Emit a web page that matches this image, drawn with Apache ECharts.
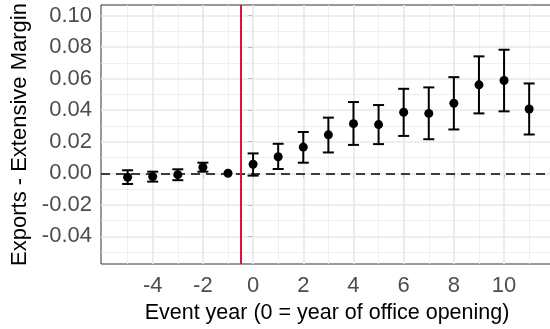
<!DOCTYPE html>
<html>
<head>
<meta charset="utf-8">
<script src="https://cdn.jsdelivr.net/npm/echarts@6/dist/echarts.min.js"></script>
<style>
html,body{margin:0;padding:0;background:#fff;}
#chart{width:550px;height:329px;}
</style>
</head>
<body>
<div id="chart"></div>
<script>
// Data
const years = [-5,-4,-3,-2,-1,0,1,2,3,4,5,6,7,8,9,10,11];
const estimate = [-0.0025,-0.0021,-0.0009,0.0038,0,0.0057,0.0105,0.0166,0.0244,0.0315,0.0309,0.0387,0.0380,0.0444,0.0561,0.0589,0.0408];
const ciLow = [-0.0068,-0.0053,-0.0044,0.0010,null,-0.0015,0.0027,0.0067,0.0132,0.0180,0.0185,0.0237,0.0216,0.0278,0.0380,0.0393,0.0246];
const ciHigh = [0.0019,0.0010,0.0025,0.0067,null,0.0126,0.0187,0.0262,0.0353,0.0452,0.0433,0.0536,0.0545,0.0610,0.0742,0.0784,0.0570];
const xTicks = [-4,-2,0,2,4,6,8,10];
const xMinorTicks = [-5,-3,-1,1,3,5,7,9,11];
const yTicks = [-0.04,-0.02,0.00,0.02,0.04,0.06,0.08,0.10];
const yMinorTicks = [-0.05,-0.03,-0.01,0.01,0.03,0.05,0.07,0.09];
const eventLine = -0.5;
const zeroLine = 0;
const xTitle = 'Event year (0 = year of office opening)';
const yTitle = 'Exports - Extensive Margin';

const chart = echarts.init(document.getElementById('chart'), null, {renderer:'canvas'});

const gridLines = [];
xMinorTicks.forEach(v => gridLines.push({xAxis:v, lineStyle:{color:'#ebebeb', width:0.8, type:'solid'}}));
yMinorTicks.forEach(v => gridLines.push({yAxis:v, lineStyle:{color:'#ebebeb', width:0.8, type:'solid'}}));
xTicks.forEach(v => gridLines.push({xAxis:v, lineStyle:{color:'#e8e8e8', width:1.6, type:'solid'}}));
yTicks.forEach(v => gridLines.push({yAxis:v, lineStyle:{color:'#e8e8e8', width:1.6, type:'solid'}}));

const errData = years.map((y,i) => [y, ciLow[i], ciHigh[i]]).filter(d => d[1] !== null);

function barStyle(){ return {stroke:'#000000', lineWidth:2, opacity:1, fill:null}; }

const option = {
  animation:false,
  backgroundColor:'#ffffff',
  grid:{left:101, top:5, width:452, height:259, show:true, borderColor:'#333333', borderWidth:1,
        backgroundColor:'transparent', containLabel:false, outerBoundsMode:'none'},
  xAxis:{
    type:'value', min:-6.06, max:11.95,
    name:xTitle, nameLocation:'middle', nameGap:38,
    nameTextStyle:{fontFamily:'Liberation Sans', fontSize:21.5, color:'#000'},
    splitLine:{show:false},
    axisLine:{show:false},
    axisTick:{show:true, length:5, lineStyle:{color:'#333', width:1}, customValues:xTicks},
    axisLabel:{customValues:xTicks, fontFamily:'Liberation Sans', fontSize:22, color:'#4d4d4d', margin:11,
      formatter:v => String(v)}
  },
  yAxis:{
    type:'value', min:-0.0576, max:0.1068,
    name:yTitle, nameLocation:'middle', nameGap:68, nameRotate:90,
    nameTextStyle:{fontFamily:'Liberation Sans', fontSize:22, color:'#000'},
    splitLine:{show:false},
    axisLine:{show:false},
    axisTick:{show:true, length:5, lineStyle:{color:'#333', width:1}, customValues:yTicks},
    axisLabel:{customValues:yTicks, fontFamily:'Liberation Sans', fontSize:22, color:'#4d4d4d', margin:9,
      formatter:v => (Math.abs(v) < 1e-9 ? 0 : v).toFixed(2)}
  },
  series:[
    {
      type:'line', data:[], silent:true, z:1,
      markLine:{z:1, silent:true, symbol:'none', label:{show:false}, animation:false, data:gridLines}
    },
    {
      type:'line', data:[], silent:true, z:2,
      markLine:{z:2, silent:true, symbol:'none', label:{show:false}, animation:false,
        data:[{yAxis:zeroLine, lineStyle:{color:'#000', width:1.6, type:[9,6]}}]}
    },
    {
      type:'line', data:[], silent:true, z:3,
      markLine:{z:3, silent:true, symbol:'none', label:{show:false}, animation:false,
        data:[{xAxis:eventLine, lineStyle:{color:'#DC143C', width:2, type:'solid'}}]}
    },
    {
      type:'custom', z:4, silent:true,
      itemStyle:{color:'#000', opacity:1},
      data:errData,
      renderItem:function(params, api){
        const x = api.value(0);
        const lo = api.coord([x, api.value(1)]);
        const hi = api.coord([x, api.value(2)]);
        const hw = 5.5;
        return {type:'group', children:[
          {type:'line', shape:{x1:lo[0], y1:lo[1], x2:hi[0], y2:hi[1]}, style:barStyle()},
          {type:'line', shape:{x1:lo[0]-hw, y1:lo[1], x2:lo[0]+hw, y2:lo[1]}, style:barStyle()},
          {type:'line', shape:{x1:hi[0]-hw, y1:hi[1], x2:hi[0]+hw, y2:hi[1]}, style:barStyle()}
        ]};
      }
    },
    {
      type:'scatter', z:5, silent:true,
      symbol:'circle', symbolSize:9,
      itemStyle:{color:'#000', opacity:1},
      data:years.map((y,i) => [y, estimate[i]])
    }
  ]
};
chart.setOption(option);
</script>
</body>
</html>
